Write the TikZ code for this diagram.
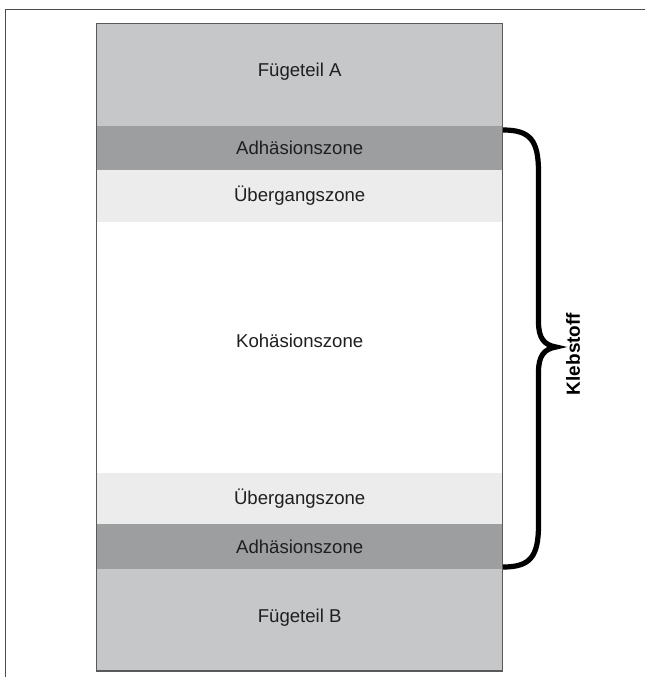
\documentclass[tikz,border=0pt]{standalone}
\usepackage{fontspec}
\setmainfont{Liberation Sans}
\begin{document}
\begin{tikzpicture}[x=1pt,y=-1pt,
  layer/.style={rectangle, anchor=north west, inner sep=0pt, outer sep=0pt,
    minimum width=406pt},
  lbl/.style={inner sep=0pt, font=\fontsize{18.6}{20}\selectfont, text=black!88},
  fuege/.style={layer, fill=fuegecol},
  adh/.style={layer, fill=adhcol},
  ueb/.style={layer, fill=uebcol},
  koh/.style={layer, fill=white},
  frameline/.style={draw=black!70, line width=1.3pt},
  boxline/.style={draw=black!65, line width=1.2pt},
  bracepath/.style={draw=black, line width=5.2pt, line cap=butt}]
\definecolor{fuegecol}{HTML}{C6C7C9}
\definecolor{adhcol}{HTML}{9D9EA0}
\definecolor{uebcol}{HTML}{EBECEB}
\useasboundingbox (0,0) rectangle (645,677);
% outer frame (left and top only)
\draw[frameline] (5.5,677) -- (5.5,9.5) -- (645,9.5);
% layers
\node[fuege, minimum height=102.5pt] (fa) at (96.7,23.5) {};
\node[adh, minimum height=44pt] (a1) at (96.7,126) {};
\node[ueb, minimum height=52pt] (u1) at (96.7,170) {};
\node[koh, minimum height=251pt] (k) at (96.7,222) {};
\node[ueb, minimum height=51pt] (u2) at (96.7,473) {};
\node[adh, minimum height=45pt] (a2) at (96.7,524) {};
\node[fuege, minimum height=102pt] (fb) at (96.7,569) {};
% labels
\node[lbl] (tfa) at ([yshift=3pt]fa.center) {Fügeteil A};
\node[lbl] (ta1) at (a1.center) {Adhäsionszone};
\node[lbl] (tu1) at (u1.center) {Übergangszone};
\node[lbl] (tk) at ([yshift=7pt]k.center) {Kohäsionszone};
\node[lbl] (tu2) at (u2.center) {Übergangszone};
\node[lbl] (ta2) at (a2.center) {Adhäsionszone};
\node[lbl] (tfb) at ([yshift=2pt]fb.center) {Fügeteil B};
% box outline
\draw[boxline] (fa.north west) rectangle (fb.south east);
% brace
\coordinate (bt) at (503,130);
\coordinate (bb) at (503,567);
\coordinate (tip) at (556,347);
\draw[bracepath] (bt) .. controls (530,130) and (538.5,140) .. (538.5,172)
  -- (538.5,322) .. controls (538.5,338) and (544,345) .. (tip)
  .. controls (544,349) and (538.5,356) .. (538.5,372)
  -- (538.5,525) .. controls (538.5,557) and (530,567) .. (bb);
\node[rotate=90, font=\fontsize{19}{21}\selectfont\bfseries, anchor=center] (kl) at (573,354) {Klebstoff};
\end{tikzpicture}
\end{document}
